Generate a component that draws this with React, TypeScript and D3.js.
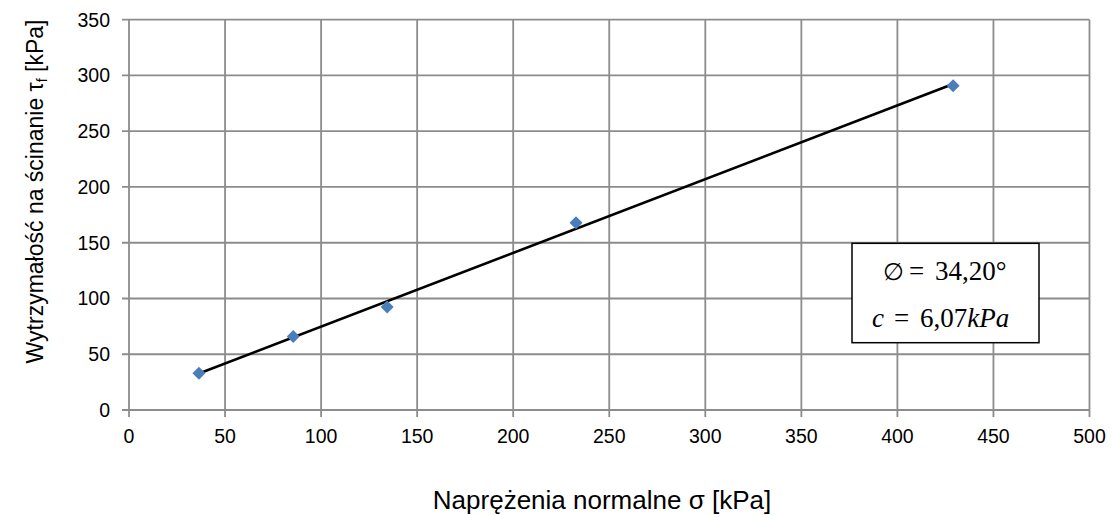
import React from "react";
import * as d3 from "d3";

const normalStress = [36.4, 85.5, 134.4, 232.7, 429];
const shearStrength = [33, 66, 92.4, 168, 290.8];
const xTicks = [0, 50, 100, 150, 200, 250, 300, 350, 400, 450, 500];
const yTicks = [0, 50, 100, 150, 200, 250, 300, 350];
const xLabel = "Naprężenia normalne σ [kPa]";

const W = 1113, H = 515;
const M = { left: 129, right: 1089.5, top: 19.7, bottom: 410 };

export default function App() {
  const x = d3.scaleLinear().domain([0, 500]).range([M.left, M.right]);
  const y = d3.scaleLinear().domain([0, 350]).range([M.bottom, M.top]);
  const pts = normalStress.map((v, i) => [v, shearStrength[i]] as [number, number]);
  const mx = d3.mean(normalStress)!, my = d3.mean(shearStrength)!;
  const sxy = d3.sum(pts, p => (p[0] - mx) * (p[1] - my));
  const sxx = d3.sum(pts, p => (p[0] - mx) ** 2);
  const slope = sxy / sxx, icpt = my - slope * mx;
  const [x0, x1] = d3.extent(normalStress) as [number, number];
  const line = d3.line<number>().x(v => x(v)).y(v => y(slope * v + icpt));
  const grid = "#8c8c8c";
  const font = "Liberation Sans, Arial, sans-serif";
  const mathFont = "Liberation Serif, 'DejaVu Serif', serif";
  const diamond = (cx: number, cy: number) => {
    const r = 6.5;
    return `M${cx},${cy - r}L${cx + r},${cy}L${cx},${cy + r}L${cx - r},${cy}Z`;
  };
  const mf = { fontFamily: mathFont, fontSize: 27, fill: "#000" };
  return (
    <svg width={W} height={H} style={{ position: "absolute", left: 0, top: 0 }}>
      <rect width={W} height={H} fill="#fff" />
      {xTicks.map(t => (
        <line key={"gx" + t} x1={x(t)} x2={x(t)} y1={M.top} y2={M.bottom + 7} stroke={grid} strokeWidth={1.8} />
      ))}
      {yTicks.map(t => (
        <line key={"gy" + t} x1={M.left - 7} x2={M.right} y1={y(t)} y2={y(t)} stroke={grid} strokeWidth={1.8} />
      ))}
      {xTicks.map(t => (
        <text key={"tx" + t} x={x(t)} y={443} textAnchor="middle" fontFamily={font} fontSize={19.5} fill="#000">{t}</text>
      ))}
      {yTicks.map(t => (
        <text key={"ty" + t} x={110} y={y(t) + 7} textAnchor="end" fontFamily={font} fontSize={19.5} fill="#000">{t}</text>
      ))}
      <path d={line([x0, x1])!} stroke="#000" strokeWidth={2.6} fill="none" />
      {pts.map((p, i) => (
        <path key={"p" + i} d={diamond(x(p[0]), y(p[1]))} fill="#4a7ebb" />
      ))}
      <rect x={852} y={243.3} width={187} height={99.4} fill="#fff" stroke="#000" strokeWidth={1.5} />
      <text x={883} y={280} {...mf} fontSize={24}>∅</text>
      <text x={909} y={280} {...mf}>=</text>
      <text x={935} y={280} {...mf}>34,20°</text>
      <text x={872} y={327} {...mf} fontStyle="italic">c</text>
      <text x={894} y={327} {...mf}>=</text>
      <text x={920} y={327} {...mf}>6,07<tspan fontStyle="italic">kPa</tspan></text>
      <text x={602} y={509} textAnchor="middle" fontFamily={font} fontSize={26} fill="#000">{xLabel}</text>
      <text transform="translate(43,191.5) rotate(-90)" textAnchor="middle" fontFamily={font} fontSize={23} fill="#000">
        Wytrzymałość na ścinanie τ<tspan fontSize={14} dy={4}>f</tspan><tspan dy={-4}> [kPa]</tspan>
      </text>
    </svg>
  );
}
